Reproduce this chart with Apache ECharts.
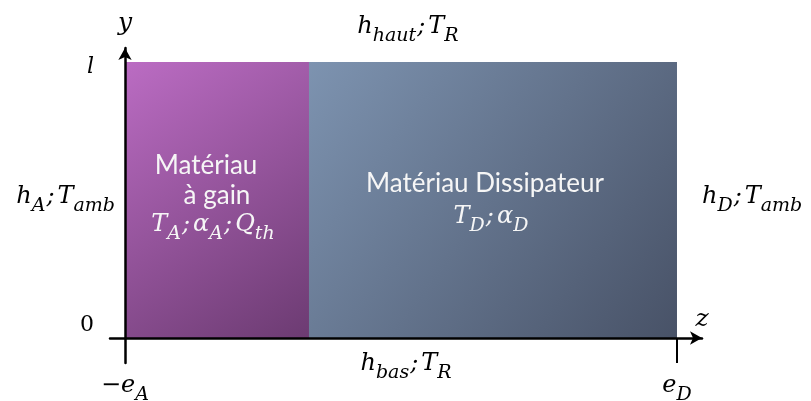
<!DOCTYPE html>
<html>
<head>
<meta charset="utf-8">
<script src="https://cdn.jsdelivr.net/npm/echarts@6/dist/echarts.min.js"></script>
<style>html,body{margin:0;padding:0;background:#fff}#c{width:811px;height:401px}</style>
</head>
<body>
<div id="c"></div>
<script>
// ---------------- data ----------------
const zMarks = [0, 3];                       // -e_A and e_D along z
const zMarkLabels = ['−e_{A}', 'e_{D}'];
const yMarks = [0, 1];                       // 0 and l along y
const yMarkLabels = ['0', 'l'];
const axisNames = ['z', 'y'];
const blockStart = [0, 1];
const blockEnd = [1, 3];
const blockBottom = [0, 0];
const blockTop = [1, 1];
const blockTitles = [['Matériau', 'à gain'], ['Matériau Dissipateur']];
const blockProps = ['T_{A};α_{A};Q_{th}', 'T_{D};α_{D}'];
const boundaryText = ['h_{haut};T_{R}', 'h_{bas};T_{R}', 'h_{A};T_{amb}', 'h_{D};T_{amb}'];
const boundaryZ = [1.5, 1.5, 0, 3];
const boundaryY = [1, 0, 0.5, 0.5];

// ---------------- styling ----------------
const MATH = 'DejaVu Serif';
const SANS = 'Lato';
const MAIN = 24, SUB = 19;
function mathStyles(color, size, sub, lh) {
  const base = {fontFamily: MATH, fontStyle: 'italic', fill: color, color: color, lineHeight: lh || 40};
  return {
    m: Object.assign({}, base, {fontSize: size}),
    u: Object.assign({}, base, {fontSize: size, fontStyle: 'normal'}),
    s: Object.assign({}, base, {fontSize: sub, padding: [19, 0, 0, 0]}),
    p: Object.assign({}, base, {fontSize: size, padding: [0, 3, 0, 1]})
  };
}
function mathRich(str) {
  let out = '';
  const re = /_\{([^}]*)\}/g;
  let last = 0, mm;
  const mainRun = (t) => {
    t.split(/(;)/).forEach(piece => {
      if (!piece) return;
      if (piece === ';') out += '{p|;}';
      else if (/^[0-9−]/.test(piece) && piece.length > 1) {
        out += '{u|' + piece[0] + '}{m|' + piece.slice(1) + '}';
      } else if (/^[0-9]+$/.test(piece)) out += '{u|' + piece + '}';
      else out += '{m|' + piece + '}';
    });
  };
  while ((mm = re.exec(str))) {
    if (mm.index > last) mainRun(str.slice(last, mm.index));
    out += '{s|' + mm[1] + '}';
    last = re.lastIndex;
  }
  if (last < str.length) mainRun(str.slice(last));
  return out;
}
const blockColors = [
  ['#bb6cc3', '#6c3b72'],
  ['#7d93b0', '#485267']
];
// text offsets relative to block centre [dx, dy] per line
const titleOffsets = [[[-11, -34], [0, -4]], [[-8, -16]]];
const propOffsets = [[-4, 25], [-2, 17]];
// boundary label placement: [dx, dy, align]
const boundaryPlace = [[7, -35, 'center'], [5, 26, 'center'], [-10, -3, 'right'], [25, -3, 'left']];

const chart = echarts.init(document.getElementById('c'), null, {renderer: 'canvas'});

const blockData = blockStart.map((s, i) => [s, blockEnd[i], blockBottom[i], blockTop[i]]);
const boundaryData = boundaryZ.map((z, i) => [z, boundaryY[i]]);

chart.setOption({
  animation: false,
  backgroundColor: '#fff',
  grid: {left: 110, right: 109, top: 48, bottom: 38, containLabel: false, outerBoundsMode: 'none'},
  xAxis: {
    type: 'value', min: -0.0815, max: 3.1359, z: 10,
    name: axisNames[0], nameLocation: 'end', nameGap: 0,
    nameTextStyle: {fontFamily: MATH, fontStyle: 'italic', fontSize: 25, color: '#000',
      align: 'center', verticalAlign: 'bottom', padding: [0, 0, 6, 0]},
    splitLine: {show: false},
    axisLine: {show: true, onZero: true, symbol: ['none', 'arrow'], symbolSize: [10, 12],
      lineStyle: {color: '#000', width: 2.5}},
    axisTick: {show: true, customValues: [zMarks[1]], length: 25, inside: false,
      lineStyle: {color: '#000', width: 2}},
    axisLabel: {
      customValues: zMarks, margin: 10, hideOverlap: false,
      showMinLabel: true, showMaxLabel: true,
      formatter: (v) => mathRich(zMarkLabels[zMarks.indexOf(v)]),
      rich: mathStyles('#000', MAIN, SUB, 26)
    }
  },
  yAxis: {
    type: 'value', min: -0.0906, max: 1.0507, z: 10,
    name: axisNames[1], nameLocation: 'end', nameGap: 12,
    nameTextStyle: {fontFamily: MATH, fontStyle: 'italic', fontSize: 25, color: '#000'},
    splitLine: {show: false},
    axisLine: {show: true, onZero: true, symbol: ['none', 'arrow'], symbolSize: [10, 12],
      lineStyle: {color: '#000', width: 2.5}},
    axisTick: {show: false},
    axisLabel: {
      customValues: yMarks, margin: 16,
      formatter: (v) => {
        const t = yMarkLabels[yMarks.indexOf(v)];
        return v === 0 ? '{zero|' + t + '}' : '{ell|' + t + '}';
      },
      rich: {
        zero: {fontFamily: MATH, fontSize: 22, color: '#000', padding: [0, 0, 26, 0]},
        ell: {fontFamily: MATH, fontStyle: 'italic', fontSize: 22, color: '#000', padding: [10, 0, 0, 0]}
      }
    }
  },
  series: [
    {
      type: 'custom', name: 'blocs', z: 1,
      data: blockData,
      renderItem: (params, api) => {
        const i = params.dataIndex;
        const tl = api.coord([api.value(0), api.value(3)]);
        const br = api.coord([api.value(1), api.value(2)]);
        const x = tl[0], y = tl[1], w = br[0] - tl[0], h = br[1] - tl[1];
        const cx = x + w / 2, cy = y + h / 2;
        const children = [{
          type: 'rect', shape: {x: x, y: y, width: w, height: h},
          style: {fill: new echarts.graphic.LinearGradient(0, 0, 1, 1, [
            {offset: 0, color: blockColors[i][0]}, {offset: 1, color: blockColors[i][1]}])}
        }];
        blockTitles[i].forEach((t, k) => {
          children.push({type: 'text', x: cx + titleOffsets[i][k][0], y: cy + titleOffsets[i][k][1],
            style: {text: t, fontFamily: SANS, fontSize: 26, fill: '#f6f6f6', align: 'center', verticalAlign: 'middle'}});
        });
        children.push({type: 'text', x: cx + propOffsets[i][0], y: cy + propOffsets[i][1],
          style: {text: mathRich(blockProps[i]), rich: mathStyles('#f6f6f6', MAIN, SUB), align: 'center', verticalAlign: 'middle'}});
        return {type: 'group', children: children};
      }
    },
    {
      type: 'custom', name: 'limites', z: 3,
      data: boundaryData,
      renderItem: (params, api) => {
        const i = params.dataIndex;
        const p = api.coord([api.value(0), api.value(1)]);
        const pl = boundaryPlace[i];
        return {type: 'text', x: p[0] + pl[0], y: p[1] + pl[1],
          style: {text: mathRich(boundaryText[i]), rich: mathStyles('#000', MAIN, SUB), align: pl[2], verticalAlign: 'middle'}};
      }
    }
  ]
});
</script>
</body>
</html>
